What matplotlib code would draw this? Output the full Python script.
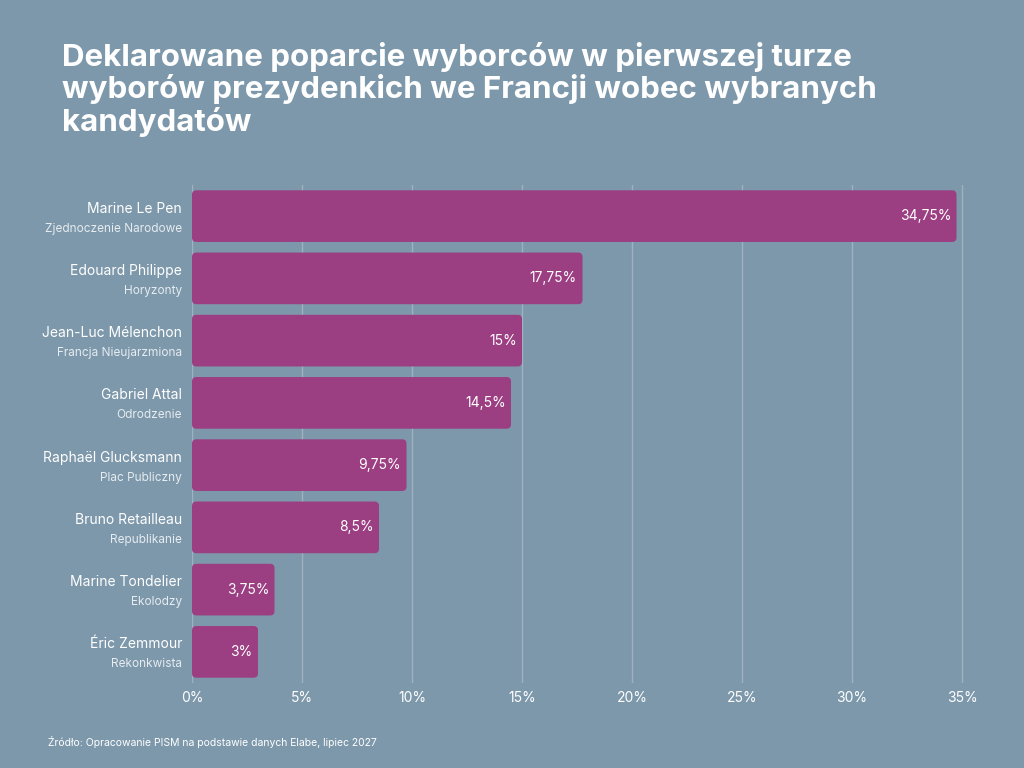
import matplotlib.pyplot as plt
from matplotlib.patches import FancyBboxPatch
from matplotlib.transforms import blended_transform_factory, offset_copy

names = ["Marine Le Pen", "Edouard Philippe", "Jean-Luc Mélenchon", "Gabriel Attal",
         "Raphaël Glucksmann", "Bruno Retailleau", "Marine Tondelier", "Éric Zemmour"]
parties = ["Zjednoczenie Narodowe", "Horyzonty", "Francja Nieujarzmiona", "Odrodzenie",
           "Plac Publiczny", "Republikanie", "Ekolodzy", "Rekonkwista"]
values = [34.75, 17.75, 15, 14.5, 9.75, 8.5, 3.75, 3]
labels = ["34,75%", "17,75%", "15%", "14,5%", "9,75%", "8,5%", "3,75%", "3%"]
ticks = [0, 5, 10, 15, 20, 25, 30, 35]

bg = "#7D98AB"
bar_color = "#9B3E82"
plt.rcParams['font.family'] = ['Inter', 'DejaVu Sans']

fig = plt.figure(figsize=(10.24, 7.68), dpi=100, facecolor=bg)
ax = fig.add_axes([192/1024, 1-683/768, 778.8/1024, 498/768])
ax.set_facecolor(bg)
ax.set_xlim(0, 35.4)
ax.set_ylim(7.5, -0.5)

h = 0.83
for i, v in enumerate(values):
    p = FancyBboxPatch((0, i - h/2), v, h, boxstyle="round,pad=0,rounding_size=0.2",
                       mutation_aspect=22/62.3, fc=bar_color, ec="none", zorder=3)
    ax.add_patch(p)
    ax.text(v - 0.25, i, labels[i], ha="right", va="center", color="white", fontsize=10, zorder=4)

trans = offset_copy(blended_transform_factory(ax.transAxes, ax.transData), fig=fig, x=-10, y=0, units="dots")
for i in range(len(names)):
    ax.text(0, i - 0.12, names[i], transform=trans, ha="right", va="center", color="white", fontsize=10)
    ax.text(0, i + 0.2, parties[i], transform=trans, ha="right", va="center", color="#E6ECF0", fontsize=8.5)

ax.set_xticks(ticks)
ax.set_xticklabels([f"{t}%" for t in ticks], color="white", fontsize=10)
ax.set_yticks([])
ax.tick_params(axis="x", length=0, pad=6)
ax.grid(axis="x", color="white", alpha=0.25, lw=1, zorder=0)
for s in ax.spines.values():
    s.set_visible(False)

fig.text(62/1024, 1-42/768, "Deklarowane poparcie wyborców w pierwszej turze\nwyborów prezydenkich we Francji wobec wybranych\nkandydatów",
         ha="left", va="top", color="white", fontsize=22.5, fontweight="bold", linespacing=1.1)
fig.text(48/1024, 1-742/768, "Źródło: Opracowanie PISM na podstawie danych Elabe, lipiec 2027",
         ha="left", va="center", color="white", fontsize=7.5)

fig.savefig("out.png", dpi=100, facecolor=bg)
